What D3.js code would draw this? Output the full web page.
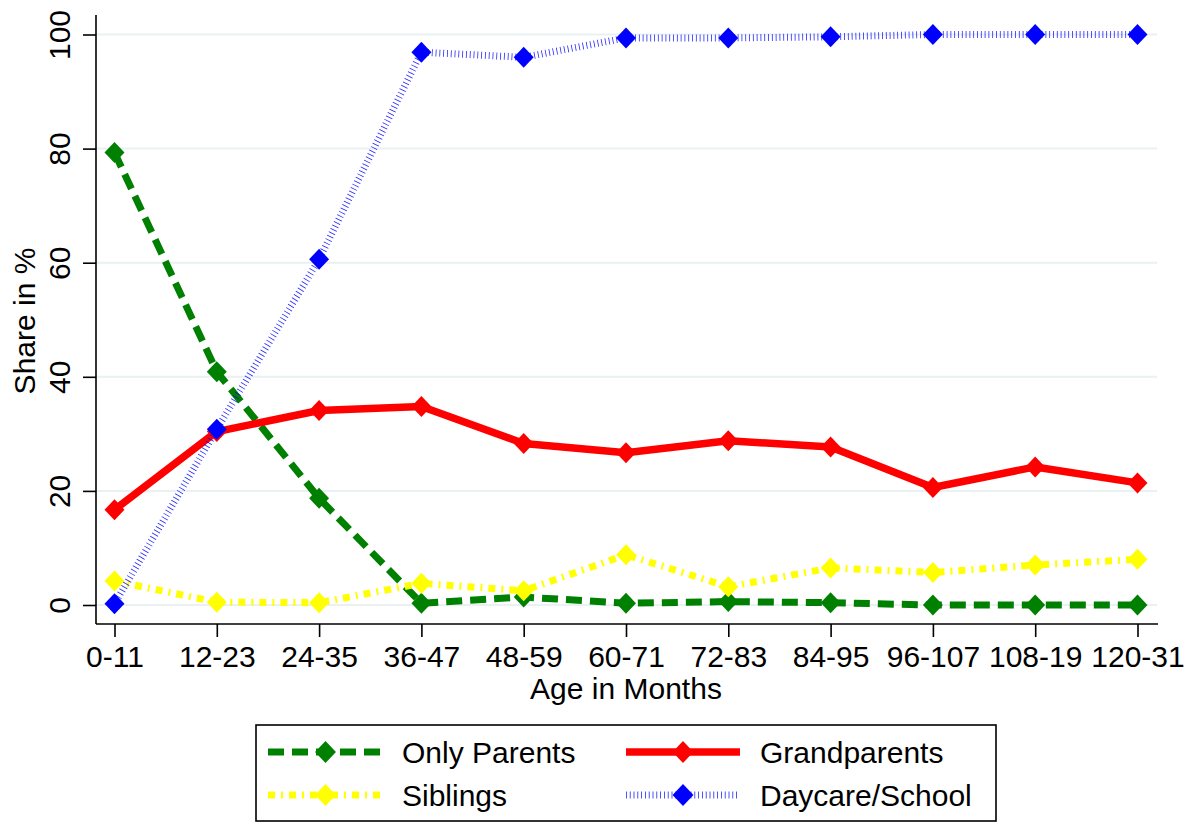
<!DOCTYPE html>
<html>
<head>
<meta charset="utf-8">
<script src="https://cdn.jsdelivr.net/npm/d3@7"></script>
<style>
  html, body { margin: 0; padding: 0; background: #fff; }
  svg { display: block; font-family: "Liberation Sans", Arial, sans-serif; }
</style>
</head>
<body>
<svg id="chart" width="1192" height="823"></svg>
<script>
const categories = ["0-11","12-23","24-35","36-47","48-59","60-71","72-83","84-95","96-107","108-19","120-31"];
const onlyParents = [79.3, 40.9, 18.7, 0.3, 1.4, 0.3, 0.6, 0.4, 0.0, 0.0, 0.0];
const grandparents = [16.7, 30.4, 34.1, 34.8, 28.3, 26.7, 28.8, 27.7, 20.6, 24.2, 21.4];
const siblings = [4.2, 0.5, 0.4, 3.8, 2.5, 8.8, 3.2, 6.5, 5.7, 7.0, 8.0];
const daycare = [0.2, 30.8, 60.6, 96.9, 96.0, 99.4, 99.4, 99.6, 100.0, 100.0, 100.0];
const yTicks = [0, 20, 40, 60, 80, 100];
const seriesNames = ["Only Parents", "Grandparents", "Siblings", "Daycare/School"];

const series = [
  { name: seriesNames[0], values: onlyParents, color: "#008000", width: 7, dash: "16 8" },
  { name: seriesNames[1], values: grandparents, color: "#ff0000", width: 7.5, dash: null },
  { name: seriesNames[2], values: siblings, color: "#ffff00", width: 7, dash: "7 6 2 6" },
  { name: seriesNames[3], values: daycare, color: "#0000ff", width: 7, dash: "0.8 3", thin: true }
];

const FS = 30;
const svg = d3.select("#chart");
const plot = { left: 96, right: 1158, top: 15, bottom: 624 };

const x = d3.scalePoint().domain(categories).range([114.5, 1137.5]);
const y = d3.scaleLinear().domain([0, 100]).range([605, 34.5]);

// gridlines
svg.append("g").selectAll("line").data(yTicks).join("line")
  .attr("x1", plot.left).attr("x2", plot.right - 1)
  .attr("y1", d => y(d)).attr("y2", d => y(d))
  .attr("stroke", "#e9f1f3").attr("stroke-width", 2);

// y axis
const yAxis = d3.axisLeft(y).tickValues(yTicks).tickSize(13).tickSizeOuter(0).tickPadding(0);
const gy = svg.append("g").attr("transform", `translate(${plot.left},0)`).call(yAxis);
gy.select(".domain").remove();
gy.selectAll(".tick line").attr("stroke", "#000").attr("stroke-width", 1.6);
gy.selectAll(".tick text")
  .attr("font-size", FS).attr("fill", "#000")
  .attr("text-anchor", "middle")
  .attr("x", 0).attr("y", 0).attr("dy", 0)
  .attr("transform", "translate(-26,0) rotate(-90)");

svg.append("line").attr("x1", plot.left).attr("x2", plot.left)
  .attr("y1", plot.top).attr("y2", plot.bottom)
  .attr("stroke", "#000").attr("stroke-width", 1.6);

// x axis
const xAxis = d3.axisBottom(x).tickSize(13).tickSizeOuter(0).tickPadding(7);
const gx = svg.append("g").attr("transform", `translate(0,${plot.bottom})`).call(xAxis);
gx.select(".domain").remove();
gx.selectAll(".tick line").attr("stroke", "#000").attr("stroke-width", 1.6);
gx.selectAll(".tick text").attr("font-size", FS).attr("fill", "#000").attr("dy", "0.76em");
svg.append("line").attr("x1", plot.left).attr("x2", plot.right)
  .attr("y1", plot.bottom).attr("y2", plot.bottom)
  .attr("stroke", "#000").attr("stroke-width", 1.6);

// axis titles
svg.append("text").attr("x", 626).attr("y", 699).attr("text-anchor", "middle")
  .attr("font-size", FS).attr("fill", "#000").text("Age in Months");
svg.append("text").attr("transform", "translate(35,321) rotate(-90)")
  .attr("text-anchor", "middle").attr("font-size", FS).attr("fill", "#000").text("Share in %");

// lines and markers
const line = d3.line().x((d, i) => x(categories[i])).y(d => y(d));
const diamond = (cx, cy, r) => `M${cx},${cy - r}L${cx + r * 0.95},${cy}L${cx},${cy + r}L${cx - r * 0.95},${cy}Z`;

series.forEach(s => {
  const g = svg.append("g");
  g.append("path").attr("d", line(s.values))
    .attr("fill", "none").attr("stroke", s.color)
    .attr("stroke-width", s.width)
    .attr("stroke-dasharray", s.dash)
    .attr("stroke-linejoin", s.dash ? "miter" : "round")
    .attr("opacity", s.thin ? 0.85 : 1);
  g.selectAll("path.m").data(s.values).join("path").attr("class", "m")
    .attr("d", (d, i) => diamond(x(categories[i]), y(d), 10.5))
    .attr("fill", s.color);
});

// legend
const lg = svg.append("g");
lg.append("rect").attr("x", 256).attr("y", 725).attr("width", 740).attr("height", 96)
  .attr("fill", "#fff").attr("stroke", "#000").attr("stroke-width", 1.6);
const legendPos = [
  { x0: 268, x1: 383, tx: 402, cy: 752 },
  { x0: 626, x1: 740, tx: 760, cy: 752 },
  { x0: 268, x1: 383, tx: 402, cy: 795 },
  { x0: 626, x1: 740, tx: 760, cy: 795 }
];
series.forEach((s, i) => {
  const p = legendPos[i];
  lg.append("line").attr("x1", p.x0).attr("x2", p.x1).attr("y1", p.cy).attr("y2", p.cy)
    .attr("stroke", s.color).attr("stroke-width", s.width)
    .attr("stroke-dasharray", s.dash).attr("opacity", s.thin ? 0.85 : 1);
  const mx = (p.x0 + p.x1) / 2;
  lg.append("path").attr("d", diamond(mx, p.cy, 11)).attr("fill", s.color);
  lg.append("text").attr("x", p.tx).attr("y", p.cy + 11).attr("font-size", FS)
    .attr("fill", "#000").text(s.name);
});
</script>
</body>
</html>
